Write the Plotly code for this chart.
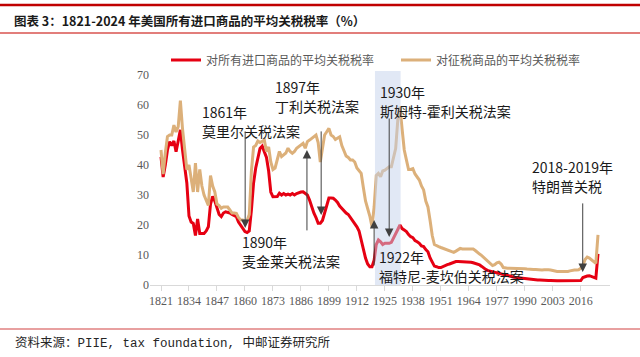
import plotly.graph_objects as go

years = list(range(1821, 2025))

all_imports = [
    42.7, 36, 40, 45, 47.8, 46.5, 48, 44.4, 48, 51.7,
    45, 40, 34, 23, 21, 20.5, 16.5, 22, 17.2, 17.2,
    17.2, 18, 19.4, 27, 29.5, 28, 25.5, 23.5, 22.8, 24,
    24.4, 24.2, 24, 23.5, 23, 22.8, 21, 19.8, 19, 17.8,
    17.5, 18, 25, 34, 39, 42.5, 45.5, 46.3, 44.5, 42.5,
    38, 31, 29.4, 29.4, 29.5, 30.6, 30, 30.5, 30, 30.3,
    30, 30.5, 30, 30.5, 30.8, 31, 31.1, 30.5, 30, 28.3,
    26, 24, 22.5, 20.6, 20.6, 21.5, 24, 27, 29, 29,
    28.9, 28.3, 27.5, 26.3, 25.5, 24.8, 24, 23.5, 22.5, 21.7,
    20.5, 19.4, 18, 15, 11.5, 9, 7, 6.1, 6.1, 8.3,
    13.5, 15, 14.4, 13.5, 13.9, 13.9, 13.9, 14.2, 15.5, 17,
    18.5, 20, 18.8, 18.3, 17.8, 16.8, 16.1, 15.8, 14.8, 14.4,
    13.9, 13, 12.8, 11.8, 11.1, 9, 7.5, 6.3, 6.1, 5.8,
    5.8, 6.2, 6.6, 6.8, 7, 7.3, 7.5, 7.8, 7.8, 7.8,
    7.8, 7.8, 7.8, 7.8, 7.6, 7.4, 7.2, 7, 6.7, 6.2,
    5.6, 5.1, 4.8, 4.6, 4.4, 4.3, 4, 3.8, 3.6, 3.4,
    3.3, 3.2, 3.0, 2.8, 2.6, 2.5, 2.4, 2.3, 2.2, 2.2,
    2.1, 2, 1.9, 1.8, 1.8, 1.7, 1.7, 1.6, 1.6, 1.5,
    1.5, 1.5, 1.4, 1.4, 1.4, 1.4, 1.4, 1.4, 1.4, 1.4,
    1.4, 1.4, 1.4, 1.4, 1.4, 1.5, 2.5, 2.8, 3.0, 3.1,
    2.8, 2.4, 2.3, 10.4,
]

dutiable = [
    45, 37, 44, 49.5, 50, 50, 53.3, 51, 52.8, 61.5,
    52, 46, 38.5, 40, 35, 31, 40.6, 31, 38.5, 33,
    30, 28, 26.5, 36.5, 33, 31, 27, 26.5, 25.6, 26,
    26.1, 26, 25, 24, 24, 23.9, 22.5, 21.7, 21.7, 21.1,
    21.5, 23.5, 38, 46, 46.5, 48, 47.5, 48, 48.3, 44.5,
    46, 41, 38.5, 39, 41.7, 44.5, 42.8, 43.5, 44, 45.6,
    44.5, 43.9, 44.5, 45.6, 46.1, 46.7, 47.2, 45.6, 47.8, 48.3,
    48.9, 49.5, 50, 47.5, 41, 45.5, 50, 51.1, 52.2, 50,
    49.5, 48.5, 49, 49.4, 46.5, 45, 43, 42.5, 41.7, 41.7,
    41, 39, 38, 37.2, 32.5, 28, 25.5, 23, 19.4, 26,
    36.5, 37.2, 36.1, 38, 38.3, 39, 39.4, 39.4, 43, 45.5,
    55, 59.4, 52, 45, 41.7, 38.5, 38.5, 38.8, 37, 36,
    35, 33, 31.7, 28, 26, 21.5, 16.5, 13.5, 13, 12.8,
    12.5, 12.2, 11.9, 11.7, 11.5, 11.1, 10.9, 11.3, 11.8, 12.2,
    12, 12, 12.2, 12.2, 12.2, 12, 11.5, 10.8, 10.3, 9.8,
    9.2, 8.4, 7.8, 7.2, 6.5, 6.8, 7.4, 7.6, 7, 5.8,
    5.6, 5.6, 5.6, 5.6, 5.6, 5.5, 5.5, 5.6, 5.5, 5.4,
    5.3, 5.2, 5.3, 5.2, 5.2, 5.1, 5, 5, 5.1, 5.2,
    5.1, 5, 4.8, 4.8, 4.5, 4.5, 4.5, 4.5, 4.4, 4.5,
    4.7, 4.9, 5, 5, 5.1, 5.6, 6.5, 8.5, 9.3, 9,
    8.3, 7.6, 7.2, 16.7,
]

tick_years = [1821, 1834, 1847, 1860, 1873, 1886, 1899, 1912, 1925,
              1938, 1951, 1964, 1977, 1990, 2003, 2016]
y_ticks = [0, 10, 20, 30, 40, 50, 60, 70]

series_names = ["对所有进口商品的平均关税税率", "对征税商品的平均关税税率"]
title_text = "图表 3：1821-2024 年美国所有进口商品的平均关税税率（%）"
source_text = "资料来源：PIIE, tax foundation, 中邮证券研究所"

# events: (year line, act name, arrow x (year), arrow tail value, arrow head value)
events = [
    ("1861年", "莫里尔关税法案", 1860.1, 51.7, 19.0),
    ("1890年", "麦金莱关税法案", 1888.8, 17.7, 45.0),
    ("1897年", "丁利关税法案", 1895.4, 51.7, 23.3),
    ("1922年", "福特尼-麦坎伯关税法案", 1920.0, 6.0, 21.7),
    ("1930年", "斯姆特-霍利关税法案", 1927.0, 56.0, 16.0),
    ("2018-2019年", "特朗普关税", 2016.9, 27.7, 4.3),
]
# text block positions (pixel x, pixel y of first line)
event_text_pos = [(200, 112), (240, 242), (273, 87), (377, 257), (378, 92), (530, 167)]

shade_years = (1920.4, 1932.3)

RED = "#e60012"
TAN = "#dcb07a"
CJK = "Noto Sans CJK SC"
SERIF = "Liberation Serif"

W, H = 640, 357
L, R, T, B = 150, 30, 70, 72
PW, PH = W - L - R, H - T - B


def px(xp):
    return (xp - L) / PW


def py(yp):
    return (H - B - yp) / PH


fig = go.Figure()
fig.add_trace(go.Scatter(x=years, y=all_imports, mode="lines", name=series_names[0],
                         line=dict(color=RED, width=3), legend="legend"))
fig.add_trace(go.Scatter(x=years, y=dutiable, mode="lines", name=series_names[1],
                         line=dict(color=TAN, width=3), legend="legend2"))

shapes = [
    dict(type="rect", xref="x", yref="y", x0=shade_years[0], x1=shade_years[1], y0=0, y1=71.3,
         fillcolor="rgba(196,210,236,0.5)", line=dict(width=0), layer="above"),
    dict(type="line", xref="paper", yref="paper", x0=px(0), x1=px(640), y0=py(5), y1=py(5),
         line=dict(color="#c00000", width=2.5)),
    dict(type="line", xref="paper", yref="paper", x0=px(0), x1=px(640), y0=py(33), y1=py(33),
         line=dict(color="#d9534f", width=1.5)),
    dict(type="line", xref="paper", yref="paper", x0=px(0), x1=px(640), y0=py(329), y1=py(329),
         line=dict(color="#e08080", width=1.5)),
]

annotations = [
    dict(text="<b>" + title_text + "</b>", xref="paper", yref="paper", x=px(12), y=py(21),
         xanchor="left", yanchor="middle", showarrow=False,
         font=dict(family=CJK, size=12.5, color="#1a1a1a")),
    dict(text=source_text, xref="paper", yref="paper", x=px(13), y=py(343),
         xanchor="left", yanchor="middle", showarrow=False,
         font=dict(family="Liberation Mono, " + CJK, size=12.5, color="#262626")),
]

for (yr_txt, act, ax_x, tail, head), (tx, ty) in zip(events, event_text_pos):
    annotations.append(dict(text=yr_txt, xref="paper", yref="paper", x=px(tx), y=py(ty),
                            xanchor="left", yanchor="middle", showarrow=False,
                            font=dict(family=CJK, size=14, color="#1a1a1a")))
    annotations.append(dict(text=act, xref="paper", yref="paper", x=px(tx), y=py(ty + 18.5),
                            xanchor="left", yanchor="middle", showarrow=False,
                            font=dict(family=CJK, size=14, color="#1a1a1a")))
    annotations.append(dict(text="", x=ax_x, y=head, ax=ax_x, ay=tail, xref="x", yref="y",
                            axref="x", ayref="y", showarrow=True, arrowhead=2,
                            arrowsize=1.7, arrowwidth=1, arrowcolor="#404040"))

px_per_year = 437 / 203
x_min = 1821 - 11 / px_per_year
x_max = 2024 + (PW - 448) / px_per_year

legend_style = dict(orientation="h", xanchor="left", yanchor="middle",
                    font=dict(family=CJK, size=12, color="#595959"),
                    bgcolor="rgba(0,0,0,0)", itemclick=False, itemdoubleclick=False)

fig.update_layout(
    width=W, height=H,
    margin=dict(l=L, r=R, t=T, b=B, autoexpand=False),
    paper_bgcolor="white", plot_bgcolor="white",
    shapes=shapes, annotations=annotations,
    showlegend=True,
    legend=dict(x=px(166), y=py(60), **legend_style),
    legend2=dict(x=px(396), y=py(60), **legend_style),
    xaxis=dict(range=[x_min, x_max], tickmode="array", tickvals=tick_years,
               ticktext=[str(t) for t in tick_years], showgrid=False, zeroline=False,
               showline=True, linecolor="#d9d9d9", linewidth=1,
               ticks="outside", ticklen=5, tickcolor="#d9d9d9",
               tickfont=dict(family=SERIF, size=12, color="#595959")),
    yaxis=dict(range=[0, PH / 3], tickmode="array", tickvals=y_ticks, showgrid=False,
               zeroline=False, showline=False, ticks="",
               tickfont=dict(family=SERIF, size=12, color="#595959")),
)

fig.write_html("out.html", config={"displayModeBar": False},
               post_script="document.body.style.margin='0';document.body.style.overflow='hidden';")
